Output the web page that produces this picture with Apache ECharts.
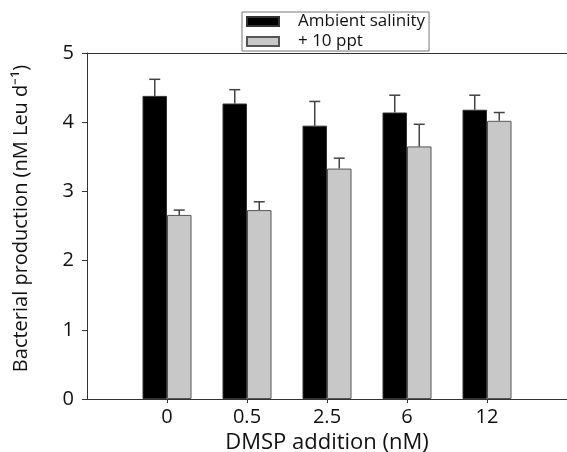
<!DOCTYPE html>
<html><head><meta charset="utf-8">
<script src="https://cdn.jsdelivr.net/npm/echarts@6/dist/echarts.min.js"></script>
<style>html,body{margin:0;padding:0;background:#fff}#c{width:567px;height:452px}</style>
</head><body><div id="c"></div>
<script>
const categories = ['0', '0.5', '2.5', '6', '12'];
const ambient = [4.38, 4.27, 3.95, 4.14, 4.18];
const ambientErr = [0.24, 0.20, 0.35, 0.25, 0.21];
const plus10 = [2.66, 2.73, 3.33, 3.65, 4.02];
const plus10Err = [0.07, 0.12, 0.15, 0.32, 0.12];
const yTicks = [0, 1, 2, 3, 4, 5];

const FONT = 'Open Sans';
const axisCats = [''].concat(categories, ['']);
const pad = v => ['-'].concat(v, ['-']);
const errData = (vals, errs) => vals.map((v, i) => [i + 1, v, v + errs[i]]);

function errRender(offset) {
  return function (params, api) {
    const x = api.value(0);
    const p0 = api.coord([x, api.value(1)]);
    const p1 = api.coord([x, api.value(2)]);
    const cx = p0[0] + offset;
    const hw = 5.5;
    const st = { stroke: '#444', lineWidth: 1.5 };
    return {
      type: 'group',
      children: [
        { type: 'line', shape: { x1: cx, y1: p0[1], x2: cx, y2: p1[1] }, style: st },
        { type: 'line', shape: { x1: cx - hw, y1: p1[1], x2: cx + hw, y2: p1[1] }, style: st }
      ]
    };
  };
}

const chart = echarts.init(document.getElementById('c'));
chart.setOption({
  animation: false,
  backgroundColor: '#fff',
  textStyle: { fontFamily: FONT },
  grid: { left: 87, right: 0, top: 53, bottom: 53, containLabel: false, outerBoundsMode: 'none' },
  legend: {
    orient: 'vertical', left: 242, top: 12,
    padding: [1, 4, 1, 4], itemGap: 3, itemWidth: 32, itemHeight: 9, icon: 'rect',
    borderColor: '#777', borderWidth: 1,
    textStyle: { fontFamily: FONT, fontSize: 17, color: '#111', lineHeight: 16, padding: [0, 0, 0, 14] },
    data: ['Ambient salinity', '+ 10 ppt']
  },
  xAxis: [{
    type: 'category', data: axisCats, boundaryGap: false, position: 'bottom',
    axisLine: { lineStyle: { color: '#333', width: 1 } },
    axisTick: { length: 4, lineStyle: { color: '#333' }, interval: (i) => i > 0 && i < axisCats.length - 1 },
    axisLabel: { fontFamily: FONT, fontSize: 20, color: '#111', margin: 8, interval: 0 },
    name: 'DMSP addition (nM)', nameLocation: 'middle', nameGap: 33,
    nameTextStyle: { fontFamily: FONT, fontSize: 22, color: '#111' },
    splitLine: { show: false }
  }, {
    type: 'category', data: axisCats, boundaryGap: false, position: 'top',
    axisLine: { lineStyle: { color: '#333', width: 1 } },
    axisTick: { show: false }, axisLabel: { show: false }, splitLine: { show: false }
  }],
  yAxis: {
    type: 'value', min: yTicks[0], max: yTicks[yTicks.length - 1], interval: 1,
    axisLine: { show: true, lineStyle: { color: '#333', width: 1 } },
    axisTick: { show: true, length: 5, lineStyle: { color: '#333' } },
    axisLabel: { fontFamily: FONT, fontSize: 20, color: '#111', margin: 13 },
    splitLine: { show: false },
    name: 'Bacterial production (nM Leu d\u207B\u00B9)', nameLocation: 'middle', nameGap: 56,
    nameTextStyle: { fontFamily: FONT, fontSize: 20, color: '#111', padding: [0, 0, 0, 15] }
  },
  series: [
    { name: 'Ambient salinity', type: 'bar', data: pad(ambient), barWidth: 24.5, barGap: '0%',
      itemStyle: { color: '#000', borderColor: '#333', borderWidth: 1 } },
    { name: '+ 10 ppt', type: 'bar', data: pad(plus10), barWidth: 24.5, barGap: '0%',
      itemStyle: { color: '#c8c8c8', borderColor: '#555', borderWidth: 1 } },
    { type: 'custom', data: errData(ambient, ambientErr), renderItem: errRender(-12.25),
      encode: { x: 0, y: [1, 2] }, z: 5, silent: true },
    { type: 'custom', data: errData(plus10, plus10Err), renderItem: errRender(12.25),
      encode: { x: 0, y: [1, 2] }, z: 5, silent: true }
  ]
});
</script></body></html>
